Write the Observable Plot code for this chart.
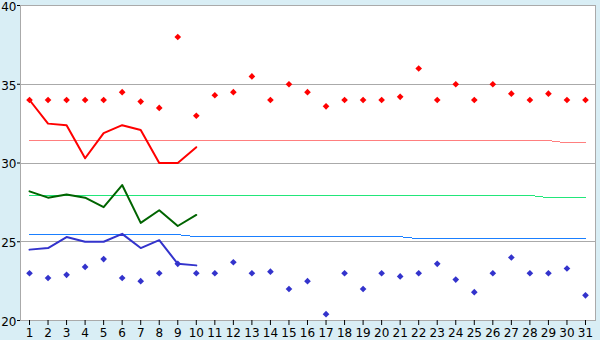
<!DOCTYPE html>
<html>
<head>
<meta charset="utf-8">
<script src="https://cdn.jsdelivr.net/npm/d3@7"></script>
<script src="https://cdn.jsdelivr.net/npm/@observablehq/plot@0.6"></script>
<style>
  html, body { margin: 0; padding: 0; background: #d9eef5; }
  #chart svg { display: block; background: #d9eef5; }
</style>
</head>
<body>
<div id="chart"></div>
<script>
const days = [1,2,3,4,5,6,7,8,9,10,11,12,13,14,15,16,17,18,19,20,21,22,23,24,25,26,27,28,29,30,31];
const maxT = [34.0,34.0,34.0,34.0,34.0,34.5,33.9,33.5,38.0,33.0,34.3,34.5,35.5,34.0,35.0,34.5,33.6,34.0,34.0,34.0,34.2,36.0,34.0,35.0,34.0,35.0,34.4,34.0,34.4,34.0,34.0];
const minT = [23.0,22.7,22.9,23.4,23.9,22.7,22.5,23.0,23.6,23.0,23.0,23.7,23.0,23.1,22.0,22.5,20.4,23.0,22.0,23.0,22.8,23.0,23.6,22.6,21.8,23.0,24.0,23.0,23.0,23.3,21.6];
const redLine = [34.0,32.5,32.4,30.3,31.9,32.4,32.1,30.0,30.0,31.0];
const greenLine = [28.2,27.8,28.0,27.8,27.2,28.6,26.2,27.0,26.0,26.7];
const blueLine = [24.5,24.6,25.3,25.0,25.0,25.5,24.6,25.1,23.6,23.5];
const redNorm = [31.42,31.42,31.42,31.42,31.42,31.42,31.42,31.42,31.42,31.42,31.42,31.42,31.42,31.42,31.42,31.42,31.42,31.42,31.42,31.42,31.42,31.42,31.42,31.42,31.42,31.42,31.42,31.42,31.42,31.28,31.28];
const greenNorm = [27.94,27.94,27.94,27.94,27.94,27.94,27.94,27.94,27.94,27.94,27.94,27.94,27.94,27.94,27.94,27.94,27.94,27.94,27.94,27.94,27.94,27.94,27.94,27.94,27.94,27.94,27.94,27.94,27.8,27.8,27.8];
const blueNorm = [25.45,25.45,25.45,25.45,25.45,25.45,25.45,25.45,25.45,25.32,25.32,25.32,25.32,25.32,25.32,25.32,25.32,25.32,25.32,25.32,25.32,25.19,25.19,25.19,25.19,25.19,25.19,25.19,25.19,25.19,25.19];
const yTicks = [20,25,30,35,40];

const series = (vals) => vals.map((v, i) => ({day: days[i], v}));

const chart = Plot.plot({
  width: 600,
  height: 340,
  marginLeft: 20,
  marginRight: 5,
  marginTop: 5,
  marginBottom: 20,
  style: {fontFamily: "DejaVu Sans", fontSize: "12px", color: "black", background: "#d9eef5"},
  x: {domain: [0.514, 31.54], ticks: days, tickFormat: d => String(d), tickSize: 5, tickPadding: 3, label: null},
  y: {domain: [20, 40], ticks: yTicks, tickSize: 3, tickPadding: 1, label: null},
  marks: [
    Plot.frame({fill: "white", stroke: "#aaaaaa"}),
    Plot.ruleY(yTicks.slice(1), {stroke: "#aaaaaa", strokeWidth: 1, shapeRendering: "crispEdges"}),
    Plot.axisX({ticks: days, tickFormat: d => String(d), tickSize: 5, tickPadding: 3, stroke: "black"}),
    Plot.axisY({ticks: yTicks, tickSize: 3, tickPadding: 1, stroke: "black", text: null}),
    Plot.text(yTicks, {x: 0.514, y: d => d, text: d => String(d), textAnchor: "end", dx: -4, dy: 1.5, fontSize: 12, fill: "black"}),
    Plot.lineY(series(redNorm), {x: "day", y: "v", stroke: "#ff7f7f", strokeWidth: 1, shapeRendering: "crispEdges"}),
    Plot.lineY(series(greenNorm), {x: "day", y: "v", stroke: "#22e67a", strokeWidth: 1, shapeRendering: "crispEdges"}),
    Plot.lineY(series(blueNorm), {x: "day", y: "v", stroke: "#1a7fff", strokeWidth: 1, shapeRendering: "crispEdges"}),
    Plot.lineY(series(redLine), {x: "day", y: "v", stroke: "#ff0000", strokeWidth: 2, curve: "linear"}),
    Plot.lineY(series(greenLine), {x: "day", y: "v", stroke: "#006400", strokeWidth: 2}),
    Plot.lineY(series(blueLine), {x: "day", y: "v", stroke: "#3333cc", strokeWidth: 2}),
    Plot.dot(series(maxT), {x: "day", y: "v", symbol: "diamond2", r: 3, fill: "#ff0000", stroke: "none"}),
    Plot.dot(series(minT), {x: "day", y: "v", symbol: "diamond2", r: 3, fill: "#3333cc", stroke: "none"})
  ]
});
document.getElementById("chart").appendChild(chart);
</script>
</body>
</html>
